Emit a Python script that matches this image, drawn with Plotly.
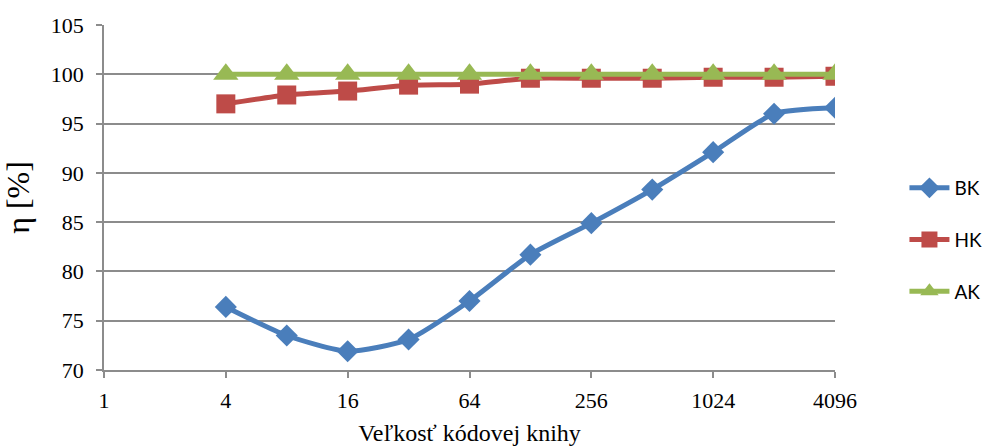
import plotly.graph_objects as go

sizes = [4, 8, 16, 32, 64, 128, 256, 512, 1024, 2048, 4096]
bk = [76.4, 73.5, 71.9, 73.1, 77.0, 81.7, 84.9, 88.3, 92.1, 96.0, 96.6]
hk = [97.0, 97.9, 98.3, 98.9, 99.0, 99.6, 99.6, 99.6, 99.7, 99.7, 99.8]
ak = [100, 100, 100, 100, 100, 100, 100, 100, 100, 100, 100]
x_ticks = [1, 4, 16, 64, 256, 1024, 4096]
x_ticktext = ["1", "4", "16", "64", "256", "1024", "4096"]
y_ticks = [70, 75, 80, 85, 90, 95, 100, 105]

SERIF = "Times New Roman, Liberation Serif, DejaVu Serif, serif"

fig = go.Figure()
series = [
    ("BK", bk, "#4A7EBB", "diamond", 17),
    ("HK", hk, "#BE4B48", "square", 19),
    ("AK", ak, "#98B954", "triangle-up", 22),
]
for i, (name, vals, col, sym, ms) in enumerate(series):
    fig.add_trace(go.Scatter(
        x=sizes, y=vals, name=name, mode="lines+markers",
        line=dict(color=col, width=5, shape="spline", smoothing=0.6),
        marker=dict(symbol=sym, size=ms, color=col),
        legendgroup=name,
    ))

grid = "#8c8c8c"
fig.update_layout(
    width=989, height=446,
    margin=dict(l=104, r=154, t=25, b=76, autoexpand=False),
    plot_bgcolor="white", paper_bgcolor="white",
    showlegend=True,
    legend=dict(x=1.095, y=0.377, xanchor="left", yanchor="middle",
                font=dict(family="Lato, Liberation Sans", size=19, color="black"),
                tracegroupgap=24, itemwidth=40),
    xaxis=dict(type="log", range=[0, 3.6124], tickvals=x_ticks, ticktext=x_ticktext,
               showgrid=False, showline=True, linecolor=grid, linewidth=1.5,
               ticks="outside", ticklen=6, tickcolor=grid, tickwidth=1.5,
               ticklabelstandoff=4, automargin=False,
               tickfont=dict(family=SERIF, size=22, color="black"),
               title=dict(text="Veľkosť kódovej knihy", standoff=15,
                          font=dict(family=SERIF, size=24, color="black")),
               zeroline=False),
    yaxis=dict(range=[70, 105], tickvals=y_ticks,
               showgrid=True, gridcolor=grid, gridwidth=1.5,
               showline=True, linecolor=grid, linewidth=1.5,
               ticks="outside", ticklen=6, tickcolor=grid, tickwidth=1.5,
               ticklabelstandoff=8, automargin=False,
               tickfont=dict(family=SERIF, size=22, color="black"),
               title=dict(text="η [%]", standoff=14,
                          font=dict(family=SERIF, size=32, color="black")),
               zeroline=False),
)
fig.write_html("out.html")
